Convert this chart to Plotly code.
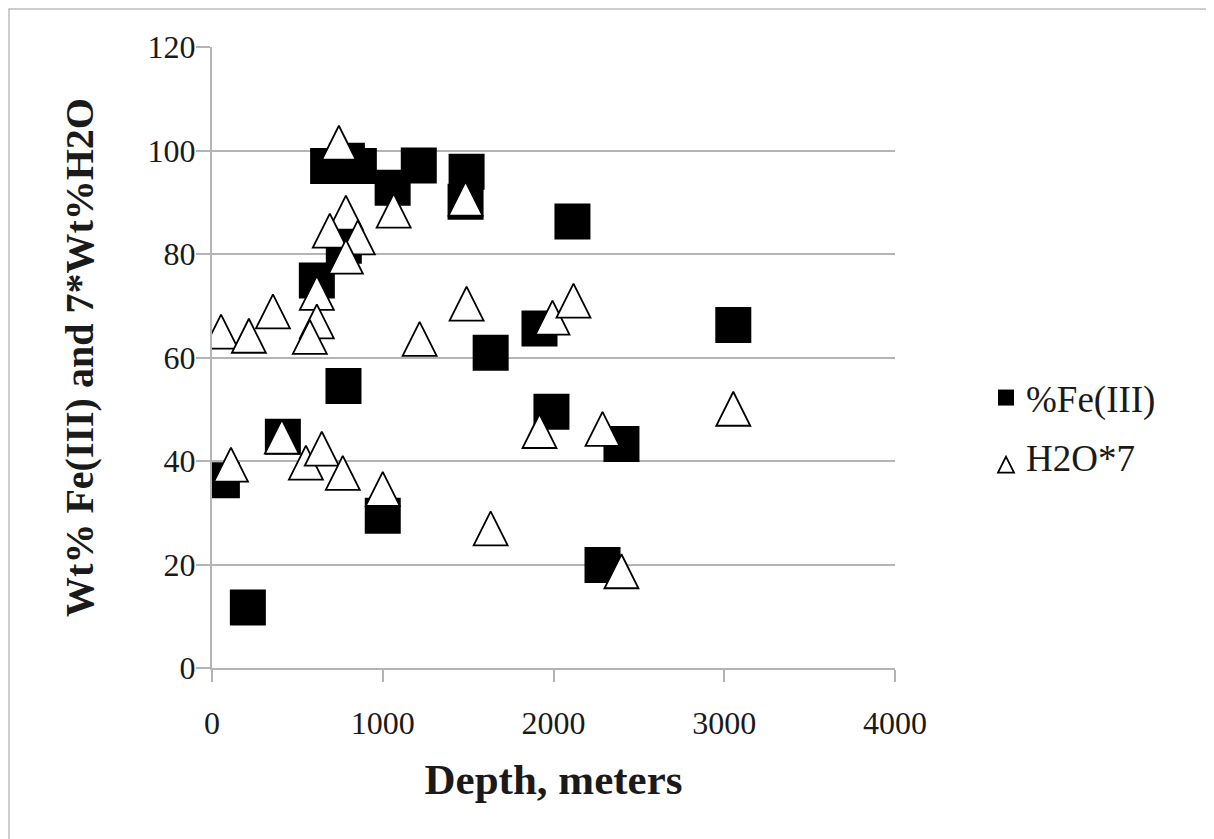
import plotly.graph_objects as go

# %Fe(III) vs depth (black squares)
fe_depth = [58, 210, 415, 614, 770, 680, 790, 860, 1058, 1211, 1491, 1485,
            2111, 1632, 1918, 3053, 1988, 2398, 2287, 1000, 772]
fe_value = [36.3, 11.7, 44.7, 74.9, 54.5, 97.0, 98.0, 97.0, 92.8, 97.1, 95.9, 90.1,
            86.3, 60.9, 65.6, 66.3, 49.5, 43.3, 19.9, 29.4, 81.6]

# 7 * Wt% H2O vs depth (open triangles)
h2o_depth = [743, 1064, 1485, 784, 690, 854, 784, 614, 614, 573, 357, 53, 216,
             1216, 1491, 1994, 2117, 3053, 1918, 2287, 1632, 2398, 111, 409, 550,
             643, 766, 1000]
h2o_value = [101.5, 88.4, 90.7, 88.0, 84.5, 83.2, 79.5, 72.5, 67.0, 64.0, 68.9,
             65.0, 64.2, 63.6, 70.4, 67.7, 71.0, 50.1, 45.8, 46.2, 27.0, 18.7,
             39.3, 44.7, 39.7, 42.4, 37.7, 34.6]

x_ticks = [0, 1000, 2000, 3000, 4000]
y_ticks = [0, 20, 40, 60, 80, 100, 120]

FONT = "Liberation Serif"
GRID = "#b4b4b4"
TRI = 34  # triangle marker size (px)

# page body has an 8px default margin; compensate so the chart sits where intended
OFF = 8
L, R, T, B = 212 - OFF, 319 + OFF, 47 - OFF, 171 + OFF
W, H = 1214, 839
pw, ph = W - L - R, H - T - B
PX0, PY0 = 212, 668  # page pixel position of the plot origin
Y_RANGE = [0, 120]
# the arrow-up symbol is anchored at its apex: lift it by half its height
d = (TRI / 2) * (Y_RANGE[1] - Y_RANGE[0]) / ph

fig = go.Figure()
fig.add_trace(go.Scatter(
    x=fe_depth, y=fe_value, mode="markers", name="%Fe(III)",
    legendgroup="a",
    marker=dict(symbol="square", size=36, color="black",
                line=dict(width=0)),
))
fig.add_trace(go.Scatter(
    x=h2o_depth, y=h2o_value, mode="markers", name="H2O*7",
    legendgroup="b", yaxis="y2",
    marker=dict(symbol="arrow-up", size=TRI, color="white",
                line=dict(width=1.8, color="black")),
))

fig.update_layout(
    width=W, height=H,
    margin=dict(l=L, r=R, t=T, b=B),
    paper_bgcolor="white", plot_bgcolor="white",
    font=dict(family=FONT, color="#1a1a1a", size=32),
    showlegend=True,
    legend=dict(x=(986 - PX0) / pw, y=(PY0 - 367) / ph, xanchor="left", yanchor="top",
                font=dict(family=FONT, size=37, color="#1a1a1a"),
                tracegroupgap=8, itemwidth=30, bgcolor="rgba(0,0,0,0)"),
    xaxis=dict(range=[0, 4000], tickvals=x_ticks, ticktext=[str(v) for v in x_ticks],
               showgrid=False, zeroline=False, showline=True, linecolor=GRID,
               linewidth=2, ticks="outside", ticklen=12, tickwidth=2, tickcolor=GRID,
               tickfont=dict(family=FONT, size=32, color="#1a1a1a"),
               ticklabelstandoff=14,
               title=dict(text="<b>Depth, meters</b>", standoff=23,
                          font=dict(family=FONT, size=43, color="#1a1a1a"))),
    yaxis=dict(range=Y_RANGE, tickvals=y_ticks, ticktext=[str(v) for v in y_ticks],
               showgrid=True, gridcolor=GRID, gridwidth=1.6, zeroline=False,
               showline=True, linecolor=GRID, linewidth=2, ticks="outside",
               ticklen=14, tickwidth=2, tickcolor=GRID,
               tickfont=dict(family=FONT, size=32, color="#1a1a1a"),
               ticklabelstandoff=-6,
               title=dict(text="<b>Wt% Fe(III) and 7*Wt%H2O</b>", standoff=42,
                          font=dict(family=FONT, size=40, color="#1a1a1a"))),
    yaxis2=dict(range=[Y_RANGE[0] - d, Y_RANGE[1] - d], overlaying="y", visible=False),
    shapes=[dict(type="rect", xref="paper", yref="paper",
                 x0=(9 - PX0) / pw, x1=(1212 - PX0) / pw,
                 y0=(PY0 - 850) / ph, y1=(PY0 - 9) / ph,
                 line=dict(color="#bdbdbd", width=1.5), fillcolor="rgba(0,0,0,0)",
                 layer="below")],
)

fig.write_html("out.html")
